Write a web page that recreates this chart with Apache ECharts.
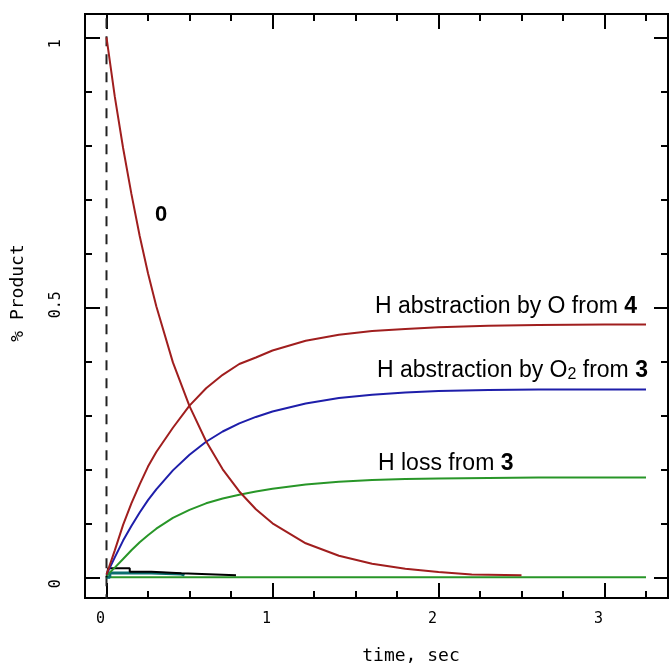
<!DOCTYPE html>
<html><head><meta charset="utf-8">
<script src="https://cdn.jsdelivr.net/npm/echarts@6/dist/echarts.min.js"></script>
<style>html,body{margin:0;padding:0;background:#fff}#c{width:669px;height:663px}</style>
</head><body><div id="c"></div>
<script>
// ---- data ----
const tRise = [0,0.05,0.1,0.15,0.2,0.25,0.3,0.4,0.5,0.6,0.7,0.8,0.9,1.0,1.2,1.4,1.6,1.8,2.0,2.3,2.6,3.0,3.25];
const hAbsO4 = [0.005,0.05,0.097,0.137,0.172,0.205,0.232,0.277,0.318,0.35,0.375,0.395,0.407,0.42,0.438,0.449,0.456,0.46,0.463,0.466,0.467,0.468,0.468];
const hAbsO23 = [0.005,0.037,0.068,0.095,0.12,0.143,0.163,0.198,0.227,0.251,0.27,0.285,0.297,0.307,0.322,0.332,0.338,0.342,0.345,0.347,0.348,0.348,0.348];
const hLoss3 = [0.003,0.018,0.034,0.05,0.065,0.078,0.09,0.11,0.125,0.137,0.146,0.153,0.159,0.164,0.172,0.177,0.18,0.182,0.183,0.184,0.185,0.185,0.185];
const tDecay = [0,0.05,0.1,0.15,0.2,0.25,0.3,0.4,0.5,0.6,0.7,0.8,0.9,1.0,1.2,1.4,1.6,1.8,2.0,2.2,2.5];
const decay0 = [1.0,0.89,0.795,0.71,0.632,0.563,0.502,0.398,0.317,0.252,0.2,0.159,0.126,0.1,0.063,0.04,0.025,0.016,0.01,0.005,0.004];
const tBlack = [0,0.01,0.14,0.27,0.45,0.78];
const vBlack = [0,0.017,0.0104,0.0074,0.004,0.004];
const tTeal = [0,0.02,0.27,0.45,0.47];
const vTeal = [0,0.008,0.006,0.004,0.004];
const tBase = [0,3.25];
const vBase = [0,0];
const tZeroLine = [0,0];
const vZeroLine = [-0.05,1.06];
const xMajor = [0,1,2,3];
const xMinor = [0.25,0.5,0.75,1.25,1.5,1.75,2.25,2.5,2.75,3.25];
const yMajor = [0,0.5,1];
const yMinor = [0.1,0.2,0.3,0.4,0.6,0.7,0.8,0.9];
const xName = 'time, sec';
const yName = '% Product';

const X_MIN = -0.1295, X_MAX = 3.3825, Y_MIN = -0.0383, Y_MAX = 1.0431;
const RED = '#a01e1e', BLUE = '#1e1eaa', GREEN = '#289628';
const MONO = '"DejaVu Sans Mono", monospace';
const SANS = '"Liberation Sans", Arial, sans-serif';

const zip = (a, b) => a.map((v, i) => [v, b[i]]);

function xAx(pos, vals, len, lbl) {
  return {
    type: 'value', position: pos, min: X_MIN, max: X_MAX,
    axisLine: { show: false, onZero: false }, splitLine: { show: false },
    axisTick: { show: true, inside: true, length: len, customValues: vals, lineStyle: { color: '#000', width: 2 } },
    axisLabel: lbl ? { show: true, customValues: vals, color: '#000', fontFamily: MONO, fontSize: 15, margin: 14, padding: [0, 12, 0, 0] } : { show: false }
  };
}
function yAx(pos, vals, len, lbl) {
  return {
    type: 'value', position: pos, min: Y_MIN, max: Y_MAX,
    axisLine: { show: false, onZero: false }, splitLine: { show: false },
    axisTick: { show: true, inside: true, length: len, customValues: vals, lineStyle: { color: '#000', width: 2 } },
    axisLabel: lbl ? { show: true, customValues: vals, color: '#000', fontFamily: MONO, fontSize: 15, rotate: 90, margin: 21, align: 'left', padding: [0, 0, 0, -11] } : { show: false }
  };
}
function line(data, color, width, extra) {
  return Object.assign({
    type: 'line', data: data, xAxisIndex: 0, yAxisIndex: 0, symbol: 'none', showSymbol: false,
    lineStyle: { color: color, width: width }, silent: true, animation: false
  }, extra || {});
}

const chart = echarts.init(document.getElementById('c'), null, { renderer: 'canvas' });
chart.setOption({
  animation: false,
  backgroundColor: '#fff',
  grid: { left: 85, top: 14, right: 1, bottom: 65, show: true, borderColor: '#000', borderWidth: 2, backgroundColor: 'transparent' },
  xAxis: [xAx('bottom', xMajor, 15, true), xAx('bottom', xMinor, 7, false), xAx('top', xMajor, 15, false), xAx('top', xMinor, 7, false)],
  yAxis: [yAx('left', yMajor, 15, true), yAx('left', yMinor, 7, false), yAx('right', yMajor, 14, false), yAx('right', yMinor, 7, false)],
  series: [
    line(zip(tZeroLine, vZeroLine), '#222', 2, { lineStyle: { color: '#222', width: 2, type: [10, 8] }, z: 1 }),
    line(zip(tBase, vBase), GREEN, 2),
    line(zip(tTeal, vTeal), '#0b6e6e', 3, { step: 'end' }),
    line(zip(tBlack, vBlack), '#000', 2, { step: 'end' }),
    line(zip(tRise, hLoss3), GREEN, 2),
    line(zip(tRise, hAbsO23), BLUE, 2),
    line(zip(tRise, hAbsO4), RED, 2),
    line(zip(tDecay, decay0), RED, 2)
  ],
  graphic: [
    { type: 'text', x: 18, y: 293, rotation: Math.PI / 2, style: { text: yName, font: '18px ' + MONO, fill: '#000', align: 'center', verticalAlign: 'middle' } },
    { type: 'text', x: 411, y: 656, style: { text: xName, font: '18px ' + MONO, fill: '#000', align: 'center', verticalAlign: 'middle' } },
    { type: 'text', x: 161, y: 215, style: { text: '0', font: 'bold 22px ' + SANS, fill: '#000', align: 'center', verticalAlign: 'middle' } },
    { type: 'text', x: 375, y: 307, style: { text: 'H abstraction by O from {b|4}', font: '23px ' + SANS, fill: '#000', verticalAlign: 'middle',
        rich: { b: { fontWeight: 'bold', fontSize: 23, fontFamily: SANS } } } },
    { type: 'text', x: 377, y: 371, style: { text: 'H abstraction by O{s|2} from {b|3}', font: '23px ' + SANS, fill: '#000', verticalAlign: 'middle',
        rich: { b: { fontWeight: 'bold', fontSize: 23, fontFamily: SANS }, s: { fontSize: 16, fontFamily: SANS, verticalAlign: 'bottom' } } } },
    { type: 'text', x: 378, y: 464, style: { text: 'H loss from {b|3}', font: '23px ' + SANS, fill: '#000', verticalAlign: 'middle',
        rich: { b: { fontWeight: 'bold', fontSize: 23, fontFamily: SANS } } } }
  ]
});
</script></body></html>
